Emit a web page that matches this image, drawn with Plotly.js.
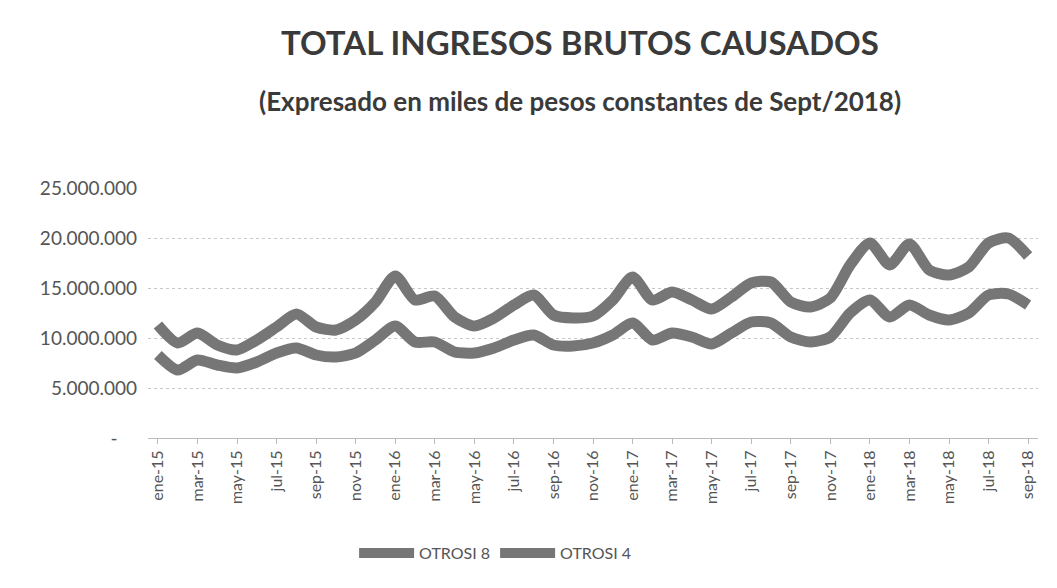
<!DOCTYPE html>
<html>
<head>
<meta charset="utf-8">
<script src="https://cdn.plot.ly/plotly-3.0.1.min.js"></script>
<style>html,body{margin:0;padding:0;background:#fff;}#chart{width:1057px;height:588px;}</style>
</head>
<body>
<div id="chart"></div>
<script>
const months = ["ene-15","feb-15","mar-15","abr-15","may-15","jun-15","jul-15","ago-15","sep-15","oct-15","nov-15","dic-15",
"ene-16","feb-16","mar-16","abr-16","may-16","jun-16","jul-16","ago-16","sep-16","oct-16","nov-16","dic-16",
"ene-17","feb-17","mar-17","abr-17","may-17","jun-17","jul-17","ago-17","sep-17","oct-17","nov-17","dic-17",
"ene-18","feb-18","mar-18","abr-18","may-18","jun-18","jul-18","ago-18","sep-18"];
const otrosi8 = [11300000,9500000,10500000,9300000,8800000,9800000,11100000,12400000,11100000,10800000,11800000,13600000,
16200000,13800000,14200000,12100000,11200000,12000000,13300000,14300000,12300000,12000000,12200000,13800000,
16100000,13800000,14600000,13800000,12900000,14100000,15500000,15600000,13600000,13100000,14000000,17300000,
19500000,17300000,19400000,16800000,16300000,17100000,19500000,20000000,18200000];
const otrosi4 = [8300000,6800000,7800000,7300000,7000000,7600000,8500000,9000000,8300000,8100000,8500000,9800000,
11200000,9600000,9600000,8600000,8500000,9000000,9800000,10300000,9300000,9200000,9500000,10300000,
11500000,9800000,10500000,10100000,9400000,10500000,11600000,11500000,10100000,9600000,10100000,12500000,
13800000,12100000,13300000,12300000,11800000,12500000,14300000,14400000,13300000];
const yTickVals = [0,5000000,10000000,15000000,20000000,25000000];
const yTickText = ["-\u00a0\u00a0\u00a0\u00a0","5.000.000","10.000.000","15.000.000","20.000.000","25.000.000"];
const seriesNames = ["OTROSI 8","OTROSI 4"];

const xLabelIdx = months.map((m,i)=>i).filter(i=>i%2===0);
const lineStyle = {color:'#767676', width:11, shape:'spline', smoothing:0.7};
const traces = [
  {x: months.map((m,i)=>i), y: otrosi8, name: seriesNames[0], mode:'lines', line: lineStyle},
  {x: months.map((m,i)=>i), y: otrosi4, name: seriesNames[1], mode:'lines', line: lineStyle}
];
const layout = {
  width:1057, height:588,
  margin:{l:148, r:19, t:188, b:150},
  paper_bgcolor:'#fff', plot_bgcolor:'#fff',
  font:{family:'Lato, "Open Sans", sans-serif', color:'#555'},
  annotations:[
    {text:'<b>TOTAL INGRESOS BRUTOS CAUSADOS</b>', xref:'paper', yref:'paper', x:0.485, y:(438-42)/250, xanchor:'center', yanchor:'middle', showarrow:false, font:{family:'Lato, sans-serif', size:33, color:'#3a3a3a'}},
    {text:'<b>(Expresado en miles de pesos constantes de Sept/2018)</b>', xref:'paper', yref:'paper', x:0.485, y:(438-101)/250, xanchor:'center', yanchor:'middle', showarrow:false, font:{family:'Lato, sans-serif', size:26, color:'#3a3a3a'}}
  ],
  xaxis:{
    range:[-0.5, months.length-0.5],
    tickmode:'array', tickvals:xLabelIdx, ticktext:xLabelIdx.map(i=>months[i]),
    tickangle:-90, tickfont:{size:16, color:'#555'},
    showgrid:false, zeroline:false,
    showline:true, linecolor:'#bbb', linewidth:1,
    ticks:'outside', ticklen:5, tickcolor:'#bbb'
  },
  yaxis:{
    range:[0,25000000],
    tickmode:'array', tickvals:yTickVals, ticktext:yTickText,
    tickfont:{size:19, color:'#555'},
    showgrid:true, gridcolor:'#c8c8c8', griddash:'dot', gridwidth:1,
    zeroline:false, showline:false, ticks:'', ticklabelstandoff:10
  },
  showlegend:true,
  legend:{orientation:'h', x:0.39, y:(438-553)/250, xanchor:'center', yanchor:'middle', font:{size:16, color:'#555'}, itemwidth:55, tracegroupgap:0}
};
Plotly.newPlot('chart', traces, layout, {displayModeBar:false, staticPlot:true});
</script>
</body>
</html>
